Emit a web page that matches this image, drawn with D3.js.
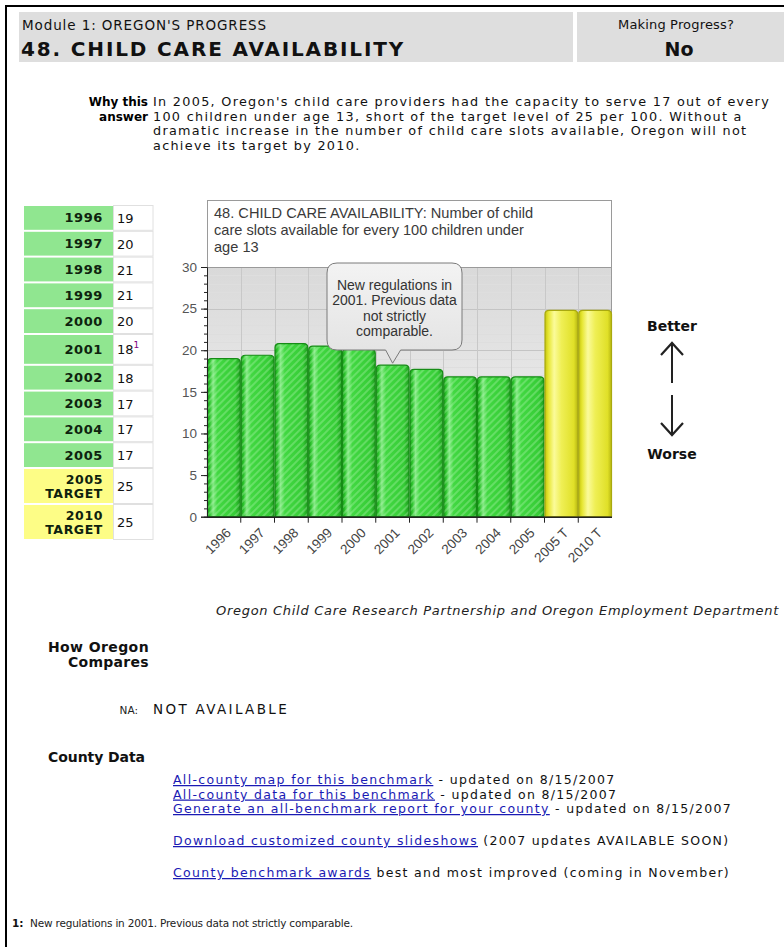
<!DOCTYPE html>
<html>
<head>
<meta charset="utf-8">
<script src="https://cdn.jsdelivr.net/npm/d3@7/dist/d3.min.js"></script>
<style>
	body { margin: 0; background: #fff; }
	svg text { font-family: "DejaVu Sans", Verdana, sans-serif; fill: #000; }
	.arial { font-family: "Liberation Sans", Arial, sans-serif; }
</style>
</head>
<body>
<svg id="page" width="784" height="947"></svg>
<script>
/*=================================
	DATA
**===============================*/

//Table on the left
var tableYears = ["1996", "1997", "1998", "1999", "2000", "2001", "2002", "2003", "2004", "2005"];
var tableValues = [19, 20, 21, 21, 20, 18, 18, 17, 17, 17];
var tableNotes = ["", "", "", "", "", "1", "", "", "", ""];
var targetYears = ["2005", "2010"];
var targetValues = [25, 25];

//Bar chart
var chartLabels = ["1996", "1997", "1998", "1999", "2000", "2001", "2002", "2003", "2004", "2005", "2005 T", "2010 T"];
var chartValues = [19.0, 19.4, 20.8, 20.5, 20.1, 18.2, 17.7, 16.8, 16.8, 16.8, 24.8, 24.8];
var chartKinds = ["actual", "actual", "actual", "actual", "actual", "actual", "actual", "actual", "actual", "actual", "target", "target"];
var yTicks = [0, 5, 10, 15, 20, 25, 30];
var chartTitle = ["48. CHILD CARE AVAILABILITY: Number of child", "care slots available for every 100 children under", "age 13"];
var calloutLines = ["New regulations in", "2001. Previous data", "not strictly", "comparable."];
var calloutAt = "2001";

//Texts
var whyLines = [
	"In 2005, Oregon's child care providers had the capacity to serve 17 out of every",
	"100 children under age 13, short of the target level of 25 per 100. Without a",
	"dramatic increase in the number of child care slots available, Oregon will not",
	"achieve its target by 2010."
];
var countyLinks = [
	{ link: "All-county map for this benchmark", rest: " - updated on 8/15/2007" },
	{ link: "All-county data for this benchmark", rest: " - updated on 8/15/2007" },
	{ link: "Generate an all-benchmark report for your county", rest: " - updated on 8/15/2007" },
	{ link: "Download customized county slideshows", rest: " (2007 updates AVAILABLE SOON)" },
	{ link: "County benchmark awards", rest: " best and most improved (coming in November)" }
];

/*=================================
	HELPERS
**===============================*/

var svg = d3.select("#page");

//widen/narrow the letter spacing so the text is w wide, returns the spacing
function spread(t, w) {
	var len = t.node().getComputedTextLength();
	var n = t.text().length;
	var ls = (w - len) / n;
	t.style("letter-spacing", ls.toFixed(3) + "px");
	return ls;
}

function txt(x, y, s, size, opts) {
	opts = opts || {};
	var t = svg.append("text")
		.attr("x", x).attr("y", y)
		.attr("font-size", size)
		.attr("text-anchor", opts.anchor || "start")
		.attr("font-weight", opts.bold ? "bold" : null)
		.attr("font-style", opts.italic ? "italic" : null)
		.style("fill", opts.color || "#000")
		.text(s);
	if (opts.family) t.style("font-family", opts.family);
	if (opts.width) spread(t, opts.width);
	return t;
}

/*=================================
	DEFS
**===============================*/

var defs = svg.append("defs");

function grad(id, stops, vertical) {
	var g = defs.append("linearGradient").attr("id", id)
		.attr("x1", 0).attr("y1", 0).attr("x2", vertical ? 0 : 1).attr("y2", vertical ? 1 : 0);
	stops.forEach(function(s) {
		g.append("stop").attr("offset", s[0]).attr("stop-color", s[1]);
	});
}

grad("gGreen", [[0, "#1a9c1a"], [0.07, "#2cc42c"], [0.17, "#86ea86"], [0.3, "#42d842"], [0.85, "#36cc36"], [1, "#1b9a1b"]]);
grad("gYellow", [[0, "#c4c410"], [0.1, "#e6e630"], [0.28, "#fbfb9a"], [0.5, "#efef55"], [0.88, "#e0e028"], [1, "#b8b812"]]);
grad("gPlot", [[0, "#d9d9d9"], [1, "#f6f6f6"]], true);
grad("gCallout", [[0, "#f3f3f3"], [1, "#e2e2e2"]], true);

var hatch = defs.append("pattern").attr("id", "hatch")
	.attr("patternUnits", "userSpaceOnUse")
	.attr("width", 5).attr("height", 5)
	.attr("patternTransform", "rotate(45)");
hatch.append("line").attr("x1", 1).attr("y1", 0).attr("x2", 1).attr("y2", 5)
	.attr("stroke", "#c0f8c0").attr("stroke-width", 1).attr("stroke-opacity", 0.6);

/*=================================
	PAGE FRAME & HEADER
**===============================*/

svg.append("rect").attr("x", 5).attr("y", 5).attr("width", 2).attr("height", 942).attr("fill", "#000");
svg.append("rect").attr("x", 5).attr("y", 5).attr("width", 779).attr("height", 2).attr("fill", "#000");

svg.append("rect").attr("x", 19).attr("y", 12).attr("width", 554).attr("height", 50).attr("fill", "#dedede");
svg.append("rect").attr("x", 577).attr("y", 12).attr("width", 207).attr("height", 50).attr("fill", "#dedede");

txt(22, 30, "Module 1: OREGON'S PROGRESS", 13.5, { width: 245, color: "#111" });
txt(21, 56, "48. CHILD CARE AVAILABILITY", 20, { bold: true, width: 384, color: "#111" });
txt(676, 29, "Making Progress?", 13, { anchor: "middle", width: 116, color: "#111" });
txt(679, 56, "No", 19, { bold: true, anchor: "middle", color: "#111" });

/*=================================
	WHY THIS ANSWER
**===============================*/

txt(148, 106, "Why this", 12, { bold: true, anchor: "end" });
txt(148, 120.5, "answer", 12, { bold: true, anchor: "end" });
var whySpacing = null;
whyLines.forEach(function(l, i) {
	var t = txt(153, 106 + i * 14.5, l, 12.8, { color: "#111" });
	if (i == 0) whySpacing = spread(t, 617);
	else t.style("letter-spacing", whySpacing.toFixed(3) + "px");
});

/*=================================
	LEFT TABLE
**===============================*/

var rowTop = 205, rowH = 25.8, tallH = 30.8, targetH = 36;
var rows = [];
var yy = rowTop;
tableYears.forEach(function(y, i) {
	var h = tableNotes[i] ? tallH : rowH;
	rows.push({ label: [y], value: tableValues[i], note: tableNotes[i], y: yy, h: h, fill: "#90e690" });
	yy += h;
});
targetYears.forEach(function(y, i) {
	rows.push({ label: [y, "TARGET"], value: targetValues[i], note: "", y: yy, h: targetH, fill: "#fdfd86" });
	yy += targetH;
});

var tRows = svg.append("g").selectAll("g").data(rows).enter().append("g");
tRows.append("rect")
	.attr("x", 24).attr("y", function(d) { return d.y + 1; })
	.attr("width", 89).attr("height", function(d) { return d.h - 2; })
	.attr("fill", function(d) { return d.fill; });
tRows.append("rect")
	.attr("x", 113.5).attr("y", function(d) { return d.y + 0.5; })
	.attr("width", 39.5).attr("height", function(d) { return d.h - 1; })
	.attr("fill", "#fff").attr("stroke", "#e0e0e0");
tRows.each(function(d) {
	var g = d3.select(this);
	var mid = d.y + d.h / 2;
	d.label.forEach(function(l, k) {
		var n = d.label.length;
		g.append("text")
			.attr("x", 103).attr("y", mid + 4.5 + (k - (n - 1) / 2) * 14)
			.attr("text-anchor", "end").attr("font-weight", "bold")
			.attr("font-size", n > 1 ? 12.5 : 13)
			.style("fill", "#0e220e")
			.style("letter-spacing", "0.6px")
			.text(l);
	});
	var v = g.append("text")
		.attr("x", 117).attr("y", mid + 5)
		.attr("font-size", 13).style("fill", "#111")
		.text(d.value);
	if (d.note) {
		v.append("tspan").attr("dy", -6).attr("font-size", 9).style("fill", "#800080").text(d.note);
	}
});

/*=================================
	BAR CHART
**===============================*/

var frame = { left: 207, right: 612, top: 200, plotTop: 267, bottom: 516.7 };

var x = d3.scaleBand().domain(chartLabels).range([frame.left, frame.right]).padding(0);
var y = d3.scaleLinear().domain([0, 30]).range([frame.bottom, frame.plotTop]);

var chart = svg.append("g").attr("class", "chart");

//plot background and grid
chart.append("rect")
	.attr("x", frame.left).attr("y", frame.plotTop)
	.attr("width", frame.right - frame.left).attr("height", frame.bottom - frame.plotTop)
	.attr("fill", "url(#gPlot)");
chart.append("g").selectAll("line").data(d3.range(1, 30)).enter().append("line")
	.attr("x1", frame.left).attr("x2", frame.right)
	.attr("y1", function(d) { return Math.round(y(d)) + 0.5; })
	.attr("y2", function(d) { return Math.round(y(d)) + 0.5; })
	.attr("stroke", function(d) { return d % 5 == 0 ? "#c4c4c4" : "#dedede"; });
chart.append("g").selectAll("line").data(chartLabels.slice(1)).enter().append("line")
	.attr("x1", function(d) { return Math.round(x(d)) + 0.5; })
	.attr("x2", function(d) { return Math.round(x(d)) + 0.5; })
	.attr("y1", frame.plotTop).attr("y2", frame.bottom)
	.attr("stroke", "#c8c8c8");

//title box
chart.append("rect")
	.attr("x", frame.left + 0.5).attr("y", frame.top + 0.5)
	.attr("width", frame.right - frame.left - 1).attr("height", frame.plotTop - frame.top)
	.attr("fill", "#fff").attr("stroke", "#9a9a9a");
chart.append("line")
	.attr("x1", frame.right - 0.5).attr("x2", frame.right - 0.5)
	.attr("y1", frame.plotTop).attr("y2", frame.bottom)
	.attr("stroke", "#9a9a9a");
chartTitle.forEach(function(l, i) {
	chart.append("text").attr("class", "arial")
		.attr("x", 214).attr("y", 218 + i * 17)
		.attr("font-size", 14.6).style("fill", "#3a3a3a")
		.text(l);
});

//bars
function barPath(x0, x1, top, bot, r) {
	r = Math.min(r, bot - top);
	return "M" + x0 + "," + bot +
		"V" + (top + r) +
		"Q" + x0 + "," + top + " " + (x0 + r) + "," + top +
		"H" + (x1 - r) +
		"Q" + x1 + "," + top + " " + x1 + "," + (top + r) +
		"V" + bot + "Z";
}

var bars = chart.append("g").selectAll("g").data(chartLabels).enter().append("g");
bars.each(function(d, i) {
	var g = d3.select(this);
	var p = barPath(x(d) + 0.5, x(d) + x.bandwidth() - 0.5, y(chartValues[i]), y(0), 4);
	var isTarget = chartKinds[i] == "target";
	g.append("path").attr("d", p).attr("fill", isTarget ? "url(#gYellow)" : "url(#gGreen)");
	if (!isTarget) g.append("path").attr("d", p).attr("fill", "url(#hatch)");
	g.append("path").attr("d", p).attr("fill", "none")
		.attr("stroke", isTarget ? "#a9a90f" : "#168c16").attr("stroke-width", 1.2);
});

//callout
var cx = x(calloutAt) + x.bandwidth() / 2;
var cb = { x0: 327, x1: 462, y0: 263, y1: 350, r: 10 };
var tipY = y(chartValues[chartLabels.indexOf(calloutAt)]) - 2;
var callPath = "M" + (cb.x0 + cb.r) + "," + cb.y0 +
	"H" + (cb.x1 - cb.r) + "Q" + cb.x1 + "," + cb.y0 + " " + cb.x1 + "," + (cb.y0 + cb.r) +
	"V" + (cb.y1 - cb.r) + "Q" + cb.x1 + "," + cb.y1 + " " + (cb.x1 - cb.r) + "," + cb.y1 +
	"H" + (cx + 8) + "L" + cx + "," + tipY + "L" + (cx - 7) + "," + cb.y1 +
	"H" + (cb.x0 + cb.r) + "Q" + cb.x0 + "," + cb.y1 + " " + cb.x0 + "," + (cb.y1 - cb.r) +
	"V" + (cb.y0 + cb.r) + "Q" + cb.x0 + "," + cb.y0 + " " + (cb.x0 + cb.r) + "," + cb.y0 + "Z";
chart.append("path").attr("d", callPath)
	.attr("fill", "url(#gCallout)").attr("stroke", "#7a7a7a").attr("stroke-width", 1);
calloutLines.forEach(function(l, i) {
	chart.append("text").attr("class", "arial")
		.attr("x", (cb.x0 + cb.x1) / 2).attr("y", 290 + i * 15.3)
		.attr("text-anchor", "middle").attr("font-size", 14).style("fill", "#333")
		.text(l);
});

//axes
var yAxis = chart.append("g").attr("transform", "translate(" + frame.left + ",0)")
	.call(d3.axisLeft(y).tickValues(yTicks).tickSize(6).tickPadding(4));
chart.append("g").attr("transform", "translate(" + frame.left + ",0)")
	.call(d3.axisLeft(y).tickValues(d3.range(0, 31)).tickSize(3).tickFormat(""))
	.select(".domain").remove();
yAxis.selectAll("text").attr("class", "arial").attr("font-size", 13.5).style("fill", "#555");
chart.selectAll(".tick line, .domain").attr("stroke", "#222");

var xAxis = chart.append("g");
xAxis.append("line")
	.attr("x1", frame.left).attr("x2", frame.right)
	.attr("y1", frame.bottom + 0.5).attr("y2", frame.bottom + 0.5)
	.attr("stroke", "#222").attr("stroke-width", 1.5);
xAxis.selectAll(".xt").data(chartLabels.slice(1)).enter().append("line")
	.attr("x1", function(d) { return x(d); }).attr("x2", function(d) { return x(d); })
	.attr("y1", frame.bottom).attr("y2", frame.bottom + 6)
	.attr("stroke", "#222");
xAxis.selectAll(".xl").data(chartLabels).enter().append("text")
	.attr("class", "arial")
	.attr("transform", function(d) {
		return "translate(" + (x(d) + x.bandwidth() / 2 + 8) + "," + (frame.bottom + 17) + ") rotate(-45)";
	})
	.attr("text-anchor", "end").attr("font-size", 13.5).style("fill", "#444")
	.text(function(d) { return d; });

/*=================================
	BETTER / WORSE
**===============================*/

txt(672, 331, "Better", 14, { bold: true, anchor: "middle", color: "#111" });
txt(672, 459, "Worse", 14, { bold: true, anchor: "middle", color: "#111" });
function arrow(x0, from, to) {
	var dir = to < from ? 1 : -1;
	svg.append("line").attr("x1", x0).attr("x2", x0).attr("y1", from).attr("y2", to + dir)
		.attr("stroke", "#222").attr("stroke-width", 2);
	svg.append("path")
		.attr("d", "M" + (x0 - 11) + "," + (to + dir * 12) + "L" + x0 + "," + to + "L" + (x0 + 11) + "," + (to + dir * 12))
		.attr("fill", "none").attr("stroke", "#222").attr("stroke-width", 2.2);
}
arrow(672, 383, 343);
arrow(672, 395, 435);

/*=================================
	BOTTOM TEXT
**===============================*/

txt(216, 615, "Oregon Child Care Research Partnership and Oregon Employment Department", 13,
	{ italic: true, width: 563, color: "#222" });

txt(48, 652, "How Oregon", 14, { bold: true, width: 101, color: "#111" });
txt(149, 667, "Compares", 14, { bold: true, anchor: "end", color: "#111" })
	.style("letter-spacing", "0.3px");

txt(138, 714, "NA:", 10.5, { anchor: "end", color: "#222" });
txt(153, 714, "NOT AVAILABLE", 13.5, { width: 136, color: "#111" });

txt(48, 762, "County Data", 14, { bold: true, width: 97, color: "#111" });

var linkY = [784, 798.5, 813, 845, 877];
var linkW = [442, 442, 558, 559, 559];
var linkTexts = [];
countyLinks.forEach(function(c, i) {
	var t = svg.append("text").attr("x", 173).attr("y", linkY[i])
		.attr("font-size", 12.5);
	t.append("tspan").style("fill", "#1a1ab4").style("text-decoration", "underline").text(c.link);
	t.append("tspan").style("fill", "#111").text(c.rest);
	linkTexts.push(t);
});
//one spacing for all link lines, taken from the measured line widths
var linkSpacing = d3.mean(linkTexts, function(t, i) {
	return (linkW[i] - t.node().getComputedTextLength()) / t.text().length;
});
linkTexts.forEach(function(t) { t.style("letter-spacing", linkSpacing.toFixed(3) + "px"); });

txt(12, 927, "1:", 10.5, { bold: true, color: "#111" });
txt(30, 927, "New regulations in 2001. Previous data not strictly comparable.", 10.5,
	{ width: 323, color: "#222" });
</script>
</body>
</html>
